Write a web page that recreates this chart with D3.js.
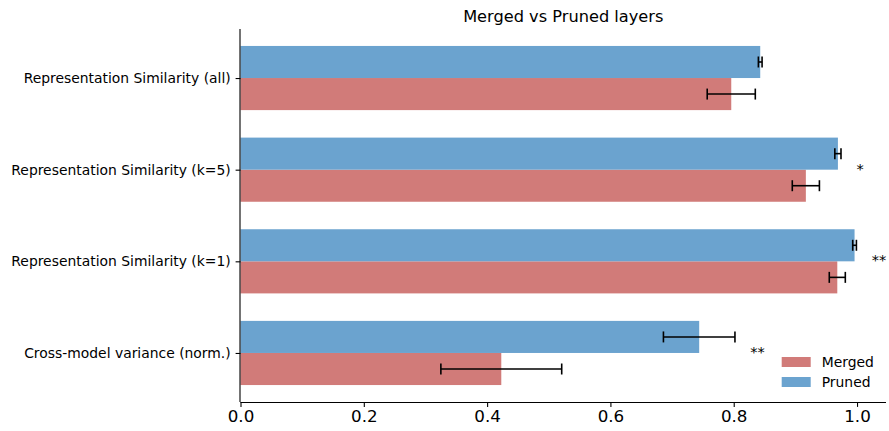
<!DOCTYPE html>
<html>
<head>
<meta charset="utf-8">
<script src="https://cdn.jsdelivr.net/npm/d3@7"></script>
<style>
  html, body { margin: 0; padding: 0; background: #fff; }
  svg { display: block; font-family: "DejaVu Sans", sans-serif; }
</style>
</head>
<body>
<svg id="chart" width="889" height="431"></svg>
<script>
// ---- data (bottom to top, as in the plot's value axis) ----
const categories = ["Cross-model variance (norm.)", "Representation Similarity (k=1)", "Representation Similarity (k=5)", "Representation Similarity (all)"];
const mergedValues = [0.423, 0.968, 0.917, 0.796];
const mergedErrors = [0.098, 0.013, 0.022, 0.039];
const prunedValues = [0.744, 0.996, 0.969, 0.843];
const prunedErrors = [0.058, 0.003, 0.005, 0.003];
const significance = ["**", "**", "*", ""];
const xTicks = [0.0, 0.2, 0.4, 0.6, 0.8, 1.0];
const seriesNames = ["Merged", "Pruned"];
const seriesColors = ["#d17b79", "#6ba3cf"];
const chartTitle = "Merged vs Pruned layers";

// ---- layout ----
const svg = d3.select("#chart");
const mLeft = 240.5, mRight = 886, mTop = 29, mBottom = 402;
const x = d3.scaleLinear().domain([0, 1.047]).range([mLeft, mRight]);
const y = d3.scaleLinear().domain([-0.535, 3.535]).range([mBottom, mTop]);
const barH = y(0) - y(0.35);

const series = [
  { name: seriesNames[0], values: mergedValues, errors: mergedErrors, color: seriesColors[0], offset: -0.175 },
  { name: seriesNames[1], values: prunedValues, errors: prunedErrors, color: seriesColors[1], offset: 0.175 }
];

// bars
series.forEach(s => {
  const g = svg.append("g");
  g.selectAll("rect").data(s.values).enter().append("rect")
    .attr("x", x(0))
    .attr("y", (d, i) => y(i + s.offset) - barH / 2)
    .attr("width", d => x(d) - x(0))
    .attr("height", barH)
    .attr("fill", s.color);
});

// error bars
const cap = 5.5;
series.forEach(s => {
  const g = svg.append("g").attr("stroke", "#000").attr("stroke-width", 1.6);
  s.values.forEach((v, i) => {
    const cy = y(i + s.offset);
    const x0 = x(v - s.errors[i]), x1 = x(v + s.errors[i]);
    g.append("line").attr("x1", x0).attr("x2", x1).attr("y1", cy).attr("y2", cy);
    g.append("line").attr("x1", x0).attr("x2", x0).attr("y1", cy - cap).attr("y2", cy + cap);
    g.append("line").attr("x1", x1).attr("x2", x1).attr("y1", cy - cap).attr("y2", cy + cap);
  });
});

// significance stars
significance.forEach((s, i) => {
  if (!s) return;
  const m = Math.max(mergedValues[i] + mergedErrors[i], prunedValues[i] + prunedErrors[i]);
  svg.append("text")
    .attr("x", x(m + 0.025))
    .attr("y", y(i) + 4)
    .attr("font-size", 14.5)
    .attr("fill", "#000")
    .text(s);
});

// x axis
const xAxis = svg.append("g")
  .attr("transform", `translate(0,${mBottom})`)
  .call(d3.axisBottom(x).tickValues(xTicks).tickFormat(d3.format(".1f")).tickSize(4.9).tickPadding(3.5));
xAxis.select(".domain").attr("stroke", "#000").attr("stroke-width", 1.1).attr("d", `M${mLeft},0.5H${mRight}`);
xAxis.selectAll(".tick line").attr("stroke", "#000").attr("stroke-width", 1.1);
xAxis.selectAll(".tick text").attr("font-size", 16.7).attr("fill", "#000")
  .attr("font-family", "DejaVu Sans, sans-serif");

// y axis
const yAxis = svg.append("g")
  .attr("transform", `translate(${mLeft},0)`)
  .call(d3.axisLeft(y).tickValues(d3.range(categories.length)).tickFormat(i => categories[i]).tickSize(4.9).tickPadding(4.9));
yAxis.select(".domain").attr("stroke", "#000").attr("stroke-width", 1.1).attr("d", `M-0.5,${mTop}V${mBottom}`);
yAxis.selectAll(".tick line").attr("stroke", "#000").attr("stroke-width", 1.1);
yAxis.selectAll(".tick text").attr("font-size", 13.9).attr("fill", "#000")
  .attr("font-family", "DejaVu Sans, sans-serif");

// title
svg.append("text")
  .attr("x", (mLeft + mRight) / 2)
  .attr("y", 22)
  .attr("text-anchor", "middle")
  .attr("font-size", 16.2)
  .attr("fill", "#000")
  .text(chartTitle);

// legend
const legend = svg.append("g");
series.forEach((s, i) => {
  const ly = 362 + i * 20;
  legend.append("rect").attr("x", 781.7).attr("y", ly - 5).attr("width", 29).attr("height", 10).attr("fill", s.color);
  legend.append("text").attr("x", 821.7).attr("y", ly).attr("dy", "0.35em")
    .attr("font-size", 13.9).attr("fill", "#000").text(s.name);
});
</script>
</body>
</html>
